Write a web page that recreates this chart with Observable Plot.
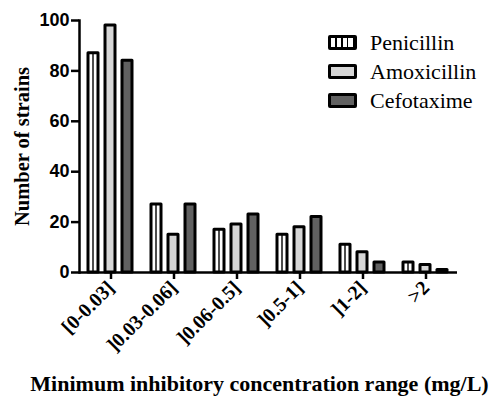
<!DOCTYPE html>
<html><head><meta charset="utf-8">
<script src="https://cdn.jsdelivr.net/npm/d3@7"></script>
<script src="https://cdn.jsdelivr.net/npm/@observablehq/plot@0.6"></script>
<style>
body{margin:0;background:#fff}
#wrap{position:relative;width:489px;height:397px;overflow:hidden}
#wrap svg{display:block}
g[aria-label="y-axis label"] text{font-family:"Liberation Serif",serif;font-size:20.5px;font-weight:bold}
g[aria-label="fx-axis label"] text{font-family:"Liberation Serif",serif;font-size:22px;font-weight:bold}
.legend{position:absolute;left:328px;top:28px;font-family:"Liberation Serif",serif;font-size:22px;color:#000}
.legend .row{display:flex;align-items:center;height:29px}
.legend .sw{box-sizing:border-box;width:29px;height:15px;border:3px solid #000;border-radius:2px;margin-right:13px}
</style></head><body><div id="wrap"></div>
<script>
const categories = ["[0-0.03]", "]0.03-0.06]", "]0.06-0.5]", "]0.5-1]", "]1-2]", ">2"];
const seriesNames = ["Penicillin", "Amoxicillin", "Cefotaxime"];
const penicillin = [87, 27, 17, 15, 11, 4];
const amoxicillin = [98, 15, 19, 18, 8, 3];
const cefotaxime = [84, 27, 23, 22, 4, 1];
const yTicks = [0, 20, 40, 60, 80, 100];
const seriesFills = ["url(#penStripes)", "#d6d6d6", "#616161"];
const yLabel = "Number of strains";
const xLabel = "Minimum inhibitory concentration range (mg/L)";

const values = [penicillin, amoxicillin, cefotaxime];
const data = categories.flatMap((c, i) => seriesNames.map((s, j) => ({category: c, series: s, value: values[j][i]})));

const chart = Plot.plot({
  width: 489, height: 397,
  marginLeft: 78, marginRight: 31, marginTop: 20, marginBottom: 125,
  fx: {domain: categories, padding: 0},
  x: {domain: seriesNames, paddingInner: 0.4, paddingOuter: 0.53, axis: null},
  y: {domain: [0, 100]},
  color: {domain: seriesNames, range: seriesFills},
  marks: [
    Plot.barY(data, {fx: "category", x: "series", y: "value", fill: "series", stroke: "black", strokeWidth: 3, strokeLinejoin: "round"}),
    Plot.ruleY([0], {stroke: "black", strokeWidth: 2.5}),
    Plot.frame({anchor: "left", facetAnchor: "left", stroke: "black", strokeWidth: 2.5}),
    Plot.axisY({ticks: yTicks, tickSize: 8, tickPadding: 2, strokeWidth: 2.5, fontSize: 18, fontWeight: "bold", fontFamily: "Liberation Sans", label: yLabel, labelArrow: "none", labelAnchor: "center", labelOffset: 65}),
    Plot.axisFx({anchor: "bottom", tickSize: 7, tickPadding: 5, strokeWidth: 2.5, tickRotate: -45, fontSize: 20, fontWeight: "bold", fontFamily: "Liberation Serif", label: xLabel, labelArrow: "none", labelAnchor: "center", labelOffset: 118})
  ]
});

// stripe pattern for Penicillin
const svg = d3.select(chart);
const defs = svg.insert("defs", ":first-child");
const pat = defs.append("pattern").attr("id", "penStripes")
  .attr("patternUnits", "objectBoundingBox").attr("patternContentUnits", "objectBoundingBox")
  .attr("width", 0.5).attr("height", 1);
pat.append("rect").attr("width", 0.5).attr("height", 1).attr("fill", "#fff");
pat.append("rect").attr("x", 0).attr("width", 0.07).attr("height", 1).attr("fill", "#000");
pat.append("rect").attr("x", 0.43).attr("width", 0.07).attr("height", 1).attr("fill", "#000");
// shift x title slightly left as in the reference
svg.selectAll('g[aria-label="fx-axis label"] text').attr("dx", -9);

const wrap = document.getElementById("wrap");
wrap.appendChild(chart);

const legend = document.createElement("div");
legend.className = "legend";
seriesNames.forEach((s, j) => {
  const row = document.createElement("div");
  row.className = "row";
  const sw = document.createElement("div");
  sw.className = "sw";
  if (j === 0) {
    sw.style.background = "repeating-linear-gradient(90deg, #fff 0 4.4px, #000 4.4px 5.8px)";
  } else {
    sw.style.background = seriesFills[j];
  }
  const t = document.createElement("span");
  t.textContent = s;
  row.appendChild(sw); row.appendChild(t);
  legend.appendChild(row);
});
wrap.appendChild(legend);
</script></body></html>
